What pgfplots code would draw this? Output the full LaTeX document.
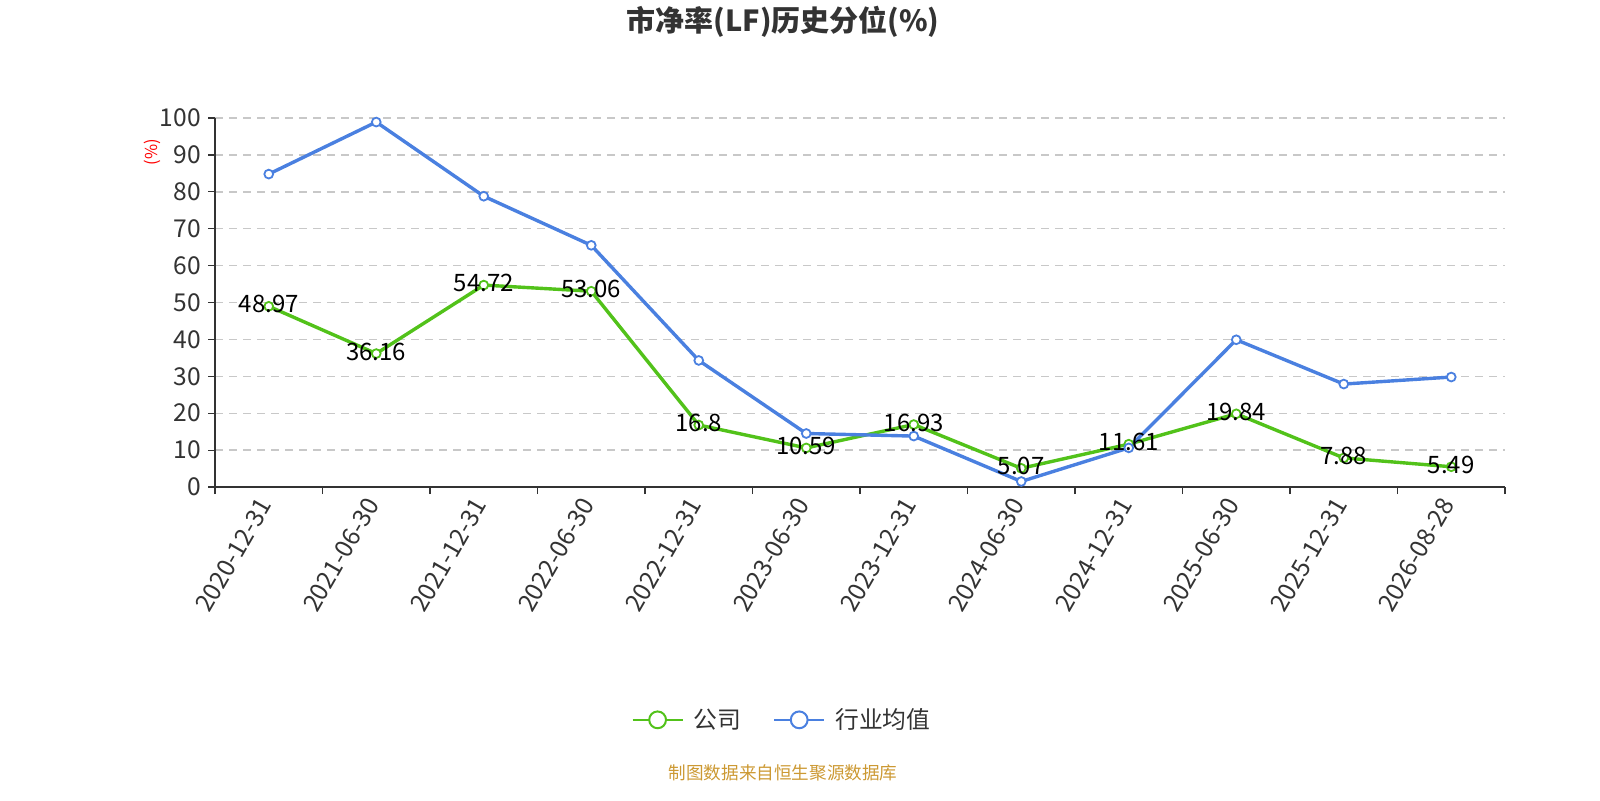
\documentclass[border=0pt]{standalone}
\usepackage{fontspec}
\setmainfont{Noto Sans CJK SC}
\usepackage{pgfplots}
\pgfplotsset{compat=1.18}
\usepackage{pgfplotstable}
\definecolor{cg}{RGB}{82,194,26}
\definecolor{cb}{RGB}{74,128,224}
\definecolor{txt}{RGB}{51,51,51}
\definecolor{foot}{RGB}{204,153,51}
\definecolor{gridc}{RGB}{200,200,200}

\pgfplotstableread{
x y label
0 48.97 48.97
1 36.16 36.16
2 54.72 54.72
3 53.06 53.06
4 16.8 16.8
5 10.59 10.59
6 16.93 16.93
7 5.07 5.07
8 11.61 11.61
9 19.84 19.84
10 7.88 7.88
11 5.49 5.49
}\company
\pgfplotstableread{
x y
0 84.8
1 98.9
2 78.8
3 65.5
4 34.3
5 14.5
6 13.8
7 1.5
8 10.6
9 39.9
10 27.9
11 29.8
}\industry

\begin{document}
\begin{tikzpicture}[x=1pt,y=1pt]
\useasboundingbox (0,0) rectangle (800,400);
\node[font=\bfseries\fontsize{14.5}{17}\selectfont, text=txt] at (391.5,389) {市净率(LF)历史分位(\%)};
\node[rotate=90, text=red, font=\fontsize{8.2}{9}\selectfont] at (76,324) {(\%)};
\node[text=foot, font=\fontsize{8.8}{10}\selectfont] at (391.5,13.5) {制图数据来自恒生聚源数据库};
\begin{axis}[at={(107.5pt,156.5pt)}, anchor=south west, scale only axis,
  width=645pt, height=184.5pt,
  xmin=-0.5, xmax=11.5, ymin=0, ymax=100,
  clip=false,
  axis x line*=bottom, axis y line*=left,
  axis line style={txt, line width=0.8pt, -},
  xtick={0,1,2,3,4,5,6,7,8,9,10,11},
  xticklabels={2020-12-31,2021-06-30,2021-12-31,2022-06-30,2022-12-31,2023-06-30,2023-12-31,2024-06-30,2024-12-31,2025-06-30,2025-12-31,2026-08-28},
  major x tick style={draw=none},
  minor xtick={-0.5,0.5,1.5,2.5,3.5,4.5,5.5,6.5,7.5,8.5,9.5,10.5,11.5},
  ytick={0,10,...,100},
  tick align=outside,
  major tick length=3.5pt, minor tick length=3.5pt,
  tick style={txt, line width=0.6pt},
  ymajorgrids,
  major grid style={gridc, line width=0.7pt, dash pattern=on 4pt off 3pt},
  xticklabel style={rotate=60, anchor=east, font=\fontsize{12.3}{14}\selectfont, text=txt},
  yticklabel style={font=\fontsize{12.3}{14}\selectfont, text=txt},
  /pgf/number format/assume math mode=true,
  legend style={at={(0.4403,-0.631)}, anchor=center, draw=none, fill=none,
    legend columns=2, font=\fontsize{11.9}{14}\selectfont, text=txt,
    /tikz/every odd column/.append style={column sep=3pt},
    /tikz/every even column/.append style={column sep=14pt}},
  legend image code/.code={
    \draw[#1, line width=1pt] (0pt,0pt) -- (25pt,0pt);
    \draw[#1, fill=white, line width=1pt] (12.5pt,0pt) circle (4.2pt);
  },
]
\addplot[cg, line width=1.7pt, mark=*, mark size=2.2pt, mark options={fill=white, line width=0.9pt}]
  table[x=x,y=y]{\company};
\addlegendentry{公司}
\addplot[cb, line width=1.7pt, mark=*, mark size=2.2pt, mark options={fill=white, line width=0.9pt}]
  table[x=x,y=y]{\industry};
\addlegendentry{行业均值}
\addplot[draw=none, forget plot, nodes near coords, point meta=explicit symbolic,
  every node near coord/.append style={anchor=center, yshift=1pt, font=\fontsize{12}{14}\selectfont, text=black}]
  table[x=x,y=y,meta=label]{\company};
\end{axis}
\end{tikzpicture}
\end{document}
